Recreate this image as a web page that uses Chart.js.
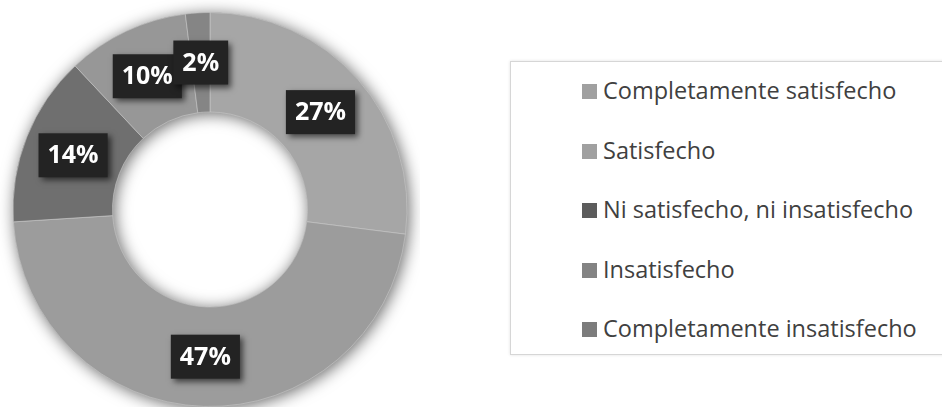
<!DOCTYPE html>
<html><head><meta charset="utf-8">
<script src="https://cdn.jsdelivr.net/npm/chart.js@4"></script>
<style>
html,body{margin:0;padding:0;background:#fff;width:942px;height:407px;overflow:hidden;position:relative;}
#wrap{position:absolute;left:0;top:0;width:420px;height:407px;}
#legend{position:absolute;left:510px;top:61px;width:440px;height:294px;border:1px solid #d6d6d6;box-shadow:0 0 3px rgba(0,0,0,0.12);box-sizing:border-box;font-family:"Open Sans",sans-serif;font-size:23.5px;color:#404040;}
.item{position:absolute;left:71px;height:30px;line-height:30px;white-space:nowrap;}
.sw{display:inline-block;width:15px;height:15px;margin-right:6px;vertical-align:0px;}
</style></head>
<body>
<div id="wrap"><canvas id="c"></canvas></div>
<div id="legend"></div>
<script>
const categories = ["Completamente satisfecho","Satisfecho","Ni satisfecho, ni insatisfecho","Insatisfecho","Completamente insatisfecho"];
const values = [27,47,14,10,2];
const labelsPct = ["27%","47%","14%","10%","2%"];
const colors = ["#a6a6a6","#9c9c9c","#6f6f6f","#979797","#858585"];
const legendColors = ["#a0a0a0","#a0a0a0","#5c5c5c","#838383","#7c7c7c"];

const lg = document.getElementById('legend');
categories.forEach((c,i)=>{
  const d=document.createElement('div');d.className='item';d.style.top=(13+i*59.5)+'px';
  d.innerHTML='<span class="sw" style="background:'+legendColors[i]+'"></span>'+c;
  lg.appendChild(d);
});

const ringShadow = {
  id:'ringShadow',
  beforeDatasetsDraw(chart){
    const a = chart.getDatasetMeta(0).data[0]; if(!a) return;
    const ctx=chart.ctx; ctx.save();
    ctx.shadowColor='rgba(0,0,0,0.6)'; ctx.shadowBlur=16; ctx.shadowOffsetX=2; ctx.shadowOffsetY=2;
    ctx.beginPath(); ctx.arc(a.x,a.y,a.outerRadius,0,Math.PI*2); ctx.arc(a.x,a.y,a.innerRadius,0,Math.PI*2,true);
    ctx.fillStyle='#9c9c9c'; ctx.fill(); ctx.restore();
  }
};
const boxLabels = {
  id:'boxLabels',
  afterDatasetsDraw(chart){
    const ctx=chart.ctx; const meta=chart.getDatasetMeta(0);
    ctx.save();
    ctx.font='bold 25px "Open Sans", sans-serif';
    ctx.textAlign='center'; ctx.textBaseline='middle';
    meta.data.forEach((arc,i)=>{
      const p=arc.tooltipPosition();
      const t=labelsPct[i]; const w=ctx.measureText(t).width+18, h=44;
      ctx.save();
      ctx.shadowColor='rgba(0,0,0,0.6)'; ctx.shadowBlur=6; ctx.shadowOffsetX=3; ctx.shadowOffsetY=3;
      ctx.fillStyle='#232323'; ctx.fillRect(p.x-w/2,p.y-h/2,w,h);
      ctx.restore();
      ctx.fillStyle='#ffffff'; ctx.fillText(t,p.x,p.y+1);
    });
    ctx.restore();
  }
};

new Chart(document.getElementById('c'),{
  type:'doughnut',
  data:{labels:categories,datasets:[{data:values,backgroundColor:colors,borderColor:'rgba(200,200,200,0.6)',borderWidth:1}]},
  options:{responsive:true,maintainAspectRatio:false,animation:false,cutout:'49.5%',
    layout:{padding:{top:12,left:0,right:0,bottom:0}},
    plugins:{legend:{display:false},tooltip:{enabled:false}}},
  plugins:[ringShadow,boxLabels]
});
</script>
</body></html>
